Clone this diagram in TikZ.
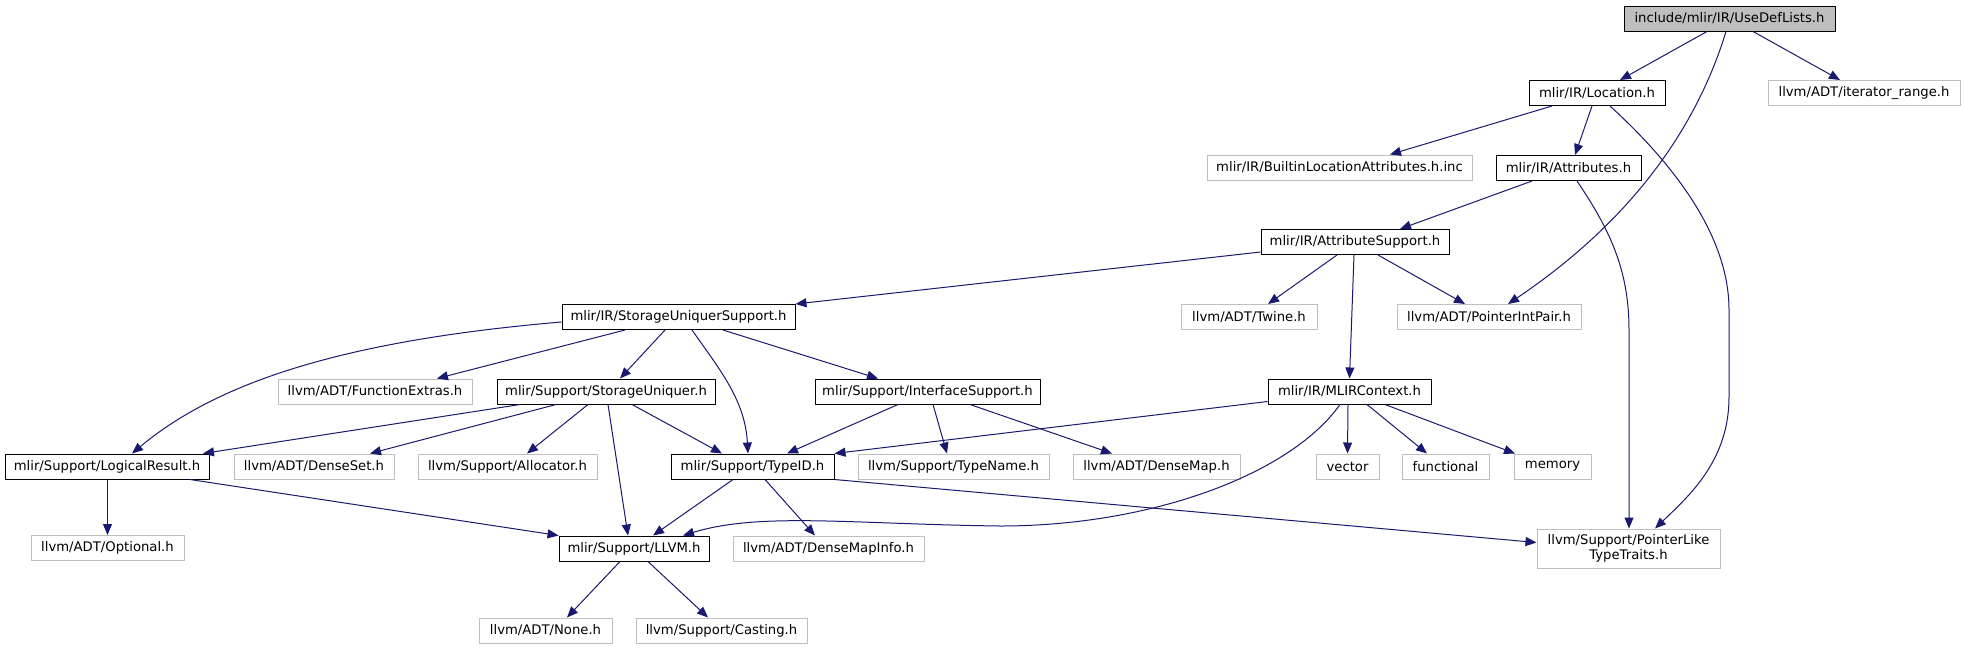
\documentclass[tikz,border=0pt]{standalone}
\usepackage{fontspec}
\setmainfont{DejaVu Sans}
\usetikzlibrary{arrows.meta}
\definecolor{edgeblue}{RGB}{25,25,112}
\definecolor{extgray}{RGB}{191,191,191}
\definecolor{rootgray}{RGB}{191,191,191}

\begin{document}
\begin{tikzpicture}[x=1pt,y=-1pt,
  every node/.style={font=\fontsize{13.2}{14.5}\selectfont, inner sep=0pt, minimum height=25pt},
  docfile/.style={draw=black, line width=1pt, fill=white},
  extfile/.style={draw=extgray, line width=1pt, fill=white},
  incl/.style={draw=edgeblue, line width=1pt, -{Triangle[length=11pt,width=9pt]}}]
\useasboundingbox (0,0) rectangle (1964,649);
\fill[white] (0,0) rectangle (1964,649);

% Root file
\node[docfile, fill=rootgray, minimum width=211pt] (usedef) at (1729.5,18.5) {include/mlir/IR/UseDefLists.h};

% Level 1
\node[docfile, minimum width=136pt] (location) at (1597,93) {mlir/IR/Location.h};
\node[extfile, minimum width=192pt] (iterrange) at (1864,93) {llvm/ADT/iterator\_range.h};

% Level 2
\node[extfile, minimum width=265pt] (builtinloc) at (1339.5,167.5) {mlir/IR/BuiltinLocationAttributes.h.inc};
\node[docfile, minimum width=145pt] (attributes) at (1568.5,168) {mlir/IR/Attributes.h};

% Level 3
\node[docfile, minimum width=188pt] (attrsupport) at (1355,242) {mlir/IR/AttributeSupport.h};

% Level 4
\node[docfile, minimum width=233pt] (susupport) at (678.5,317) {mlir/IR/StorageUniquerSupport.h};
\node[extfile, minimum width=136pt] (twine) at (1249,317) {llvm/ADT/Twine.h};
\node[extfile, minimum width=184pt] (ptrintpair) at (1489,317) {llvm/ADT/PointerIntPair.h};

% Level 5
\node[extfile, minimum width=194pt] (funcextras) at (375,391.5) {llvm/ADT/FunctionExtras.h};
\node[docfile, minimum width=218pt] (storageuniq) at (606,391.5) {mlir/Support/StorageUniquer.h};
\node[docfile, minimum width=225pt] (ifacesupport) at (927.5,391.5) {mlir/Support/InterfaceSupport.h};
\node[docfile, minimum width=163pt] (mlirctx) at (1349.5,391.5) {mlir/IR/MLIRContext.h};

% Level 6
\node[docfile, minimum width=204pt] (logicalres) at (107,466.5) {mlir/Support/LogicalResult.h};
\node[extfile, minimum width=160pt] (denseset) at (314,466.5) {llvm/ADT/DenseSet.h};
\node[extfile, minimum width=179pt] (allocator) at (507.5,466.5) {llvm/Support/Allocator.h};
\node[docfile, minimum width=163pt] (typeid) at (752.5,466.5) {mlir/Support/TypeID.h};
\node[extfile, minimum width=191pt] (typename) at (953.5,466.5) {llvm/Support/TypeName.h};
\node[extfile, minimum width=167pt] (densemap) at (1156.5,466.5) {llvm/ADT/DenseMap.h};
\node[extfile, minimum width=63pt] (vector) at (1347.5,466.5) {vector};
\node[extfile, minimum width=87pt] (functional) at (1445.5,466.5) {functional};
\node[extfile, minimum width=77pt] (memory) at (1552.5,466.5) {memory};

% Level 7
\node[extfile, minimum width=153pt] (optional) at (107.5,548) {llvm/ADT/Optional.h};
\node[docfile, minimum width=150pt] (llvm) at (634,548.5) {mlir/Support/LLVM.h};
\node[extfile, minimum width=191pt] (densemapinfo) at (828.5,548.5) {llvm/ADT/DenseMapInfo.h};
\node[extfile, minimum width=183pt, minimum height=39pt, align=center] (ptrlike) at (1628.5,548.5) {llvm/Support/PointerLike\\TypeTraits.h};

% Level 8
\node[extfile, minimum width=133pt] (none) at (545.5,630.5) {llvm/ADT/None.h};
\node[extfile, minimum width=171pt] (casting) at (721.5,630.5) {llvm/Support/Casting.h};

% Includes of UseDefLists.h
\draw[incl] ([xshift=-22.5pt]usedef.south) -- ([xshift=23pt]location.north);
\draw[incl] ([xshift=-3.5pt]usedef.south) .. controls (1705,100) and (1655,205) .. ([xshift=19pt]ptrintpair.north);
\draw[incl] ([xshift=23.5pt]usedef.south) -- ([xshift=-24pt]iterrange.north);

% Includes of Location.h and Attributes.h
\draw[incl] ([xshift=-45pt]location.south) -- ([xshift=50.5pt]builtinloc.north);
\draw[incl] ([xshift=-5pt]location.south) -- ([xshift=6.5pt]attributes.north);
\draw[incl] ([xshift=13pt]location.south) .. controls (1680,170) and (1729,240) .. (1729,310) -- (1729,397) .. controls (1729,460) and (1690,495) .. ([xshift=26.5pt]ptrlike.north);
\draw[incl] ([xshift=-36.5pt]attributes.south) -- ([xshift=45pt]attrsupport.north);
\draw[incl] ([xshift=8.5pt]attributes.south) .. controls (1610,230) and (1629,270) .. (1629,330) -- ([xshift=0.5pt]ptrlike.north);

% Includes of AttributeSupport.h
\draw[incl] ([yshift=-10pt]attrsupport.west) -- (susupport.north east);
\draw[incl] ([xshift=-18pt]attrsupport.south) -- ([xshift=19pt]twine.north);
\draw[incl] ([xshift=23pt]attrsupport.south) -- ([xshift=-24pt]ptrintpair.north);
\draw[incl] ([xshift=-1pt]attrsupport.south) -- (mlirctx.north);

% Includes of StorageUniquerSupport.h
\draw[incl] ([yshift=-5pt]susupport.west) .. controls (350,340) and (220,380) .. ([xshift=25pt]logicalres.north);
\draw[incl] ([xshift=-53.5pt]susupport.south) -- ([xshift=62pt]funcextras.north);
\draw[incl] ([xshift=-13.5pt]susupport.south) -- ([xshift=14pt]storageuniq.north);
\draw[incl] ([xshift=13.5pt]susupport.south) .. controls (720,370) and (745,400) .. ([xshift=-4.5pt]typeid.north);
\draw[incl] ([xshift=44.5pt]susupport.south) -- ([xshift=-49.5pt]ifacesupport.north);

% Includes of StorageUniquer.h
\draw[incl] ([xshift=-86pt]storageuniq.south) -- ([xshift=96pt]logicalres.north);
\draw[incl] ([xshift=-50pt]storageuniq.south) -- ([xshift=56pt]denseset.north);
\draw[incl] ([xshift=-18pt]storageuniq.south) -- ([xshift=19.5pt]allocator.north);
\draw[incl] ([xshift=26pt]storageuniq.south) -- ([xshift=-30.5pt]typeid.north);
\draw[incl] ([xshift=2pt]storageuniq.south) -- ([xshift=-6pt]llvm.north);

% Includes of InterfaceSupport.h
\draw[incl] ([xshift=-29.5pt]ifacesupport.south) -- ([xshift=34.5pt]typeid.north);
\draw[incl] ([xshift=5.5pt]ifacesupport.south) -- ([xshift=-6.5pt]typename.north);
\draw[incl] ([xshift=42.5pt]ifacesupport.south) -- ([xshift=-44.5pt]densemap.north);

% Includes of MLIRContext.h
\draw[incl] ([yshift=-10pt]mlirctx.west) -- (typeid.north east);
\draw[incl] ([xshift=-9.5pt]mlirctx.south) .. controls (1290,475) and (1150,526) .. (1000,526) .. controls (850,524) and (760,512) .. ([xshift=49pt]llvm.north);
\draw[incl] ([xshift=-1.5pt]mlirctx.south) -- (vector.north);
\draw[incl] ([xshift=17.5pt]mlirctx.south) -- ([xshift=-18.5pt]functional.north);
\draw[incl] ([xshift=35.5pt]mlirctx.south) -- ([xshift=-37.5pt]memory.north);

% Includes of LogicalResult.h and TypeID.h
\draw[incl] ([xshift=0.5pt]logicalres.south) -- (optional.north);
\draw[incl] ([xshift=83pt]logicalres.south) -- (llvm.north west);
\draw[incl] ([xshift=-19.5pt]typeid.south) -- ([xshift=19pt]llvm.north);
\draw[incl] ([xshift=12.5pt]typeid.south) -- ([xshift=-13.5pt]densemapinfo.north);
\draw[incl] (typeid.south east) -- ([yshift=6pt]ptrlike.west);

% Includes of LLVM.h
\draw[incl] ([xshift=-14pt]llvm.south) -- ([xshift=21.5pt]none.north);
\draw[incl] ([xshift=14pt]llvm.south) -- ([xshift=-13.5pt]casting.north);
\end{tikzpicture}
\end{document}
